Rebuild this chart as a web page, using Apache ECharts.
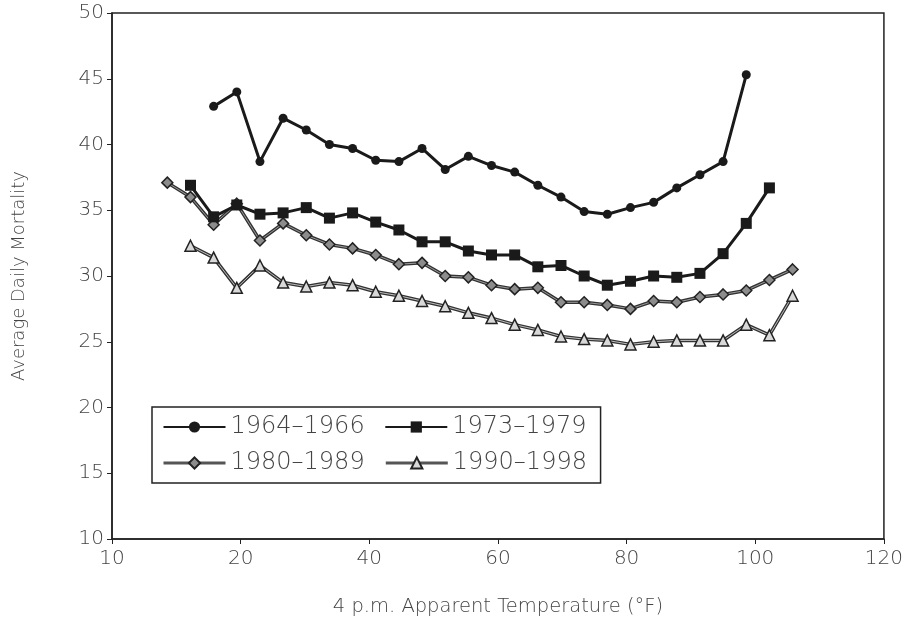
<!DOCTYPE html>
<html>
<head>
<meta charset="utf-8">
<script src="https://cdn.jsdelivr.net/npm/echarts@6/dist/echarts.min.js"></script>
<style>
  html, body { margin: 0; padding: 0; background: #fff; }
  #chart { width: 906px; height: 627px; }
</style>
</head>
<body>
<div id="chart"></div>
<script>
"use strict";
// temperature bins (°F), 2 °C apart
var temps = [8.6, 12.2, 15.8, 19.4, 23.0, 26.6, 30.2, 33.8, 37.4, 41.0, 44.6, 48.2, 51.8, 55.4,
  59.0, 62.6, 66.2, 69.8, 73.4, 77.0, 80.6, 84.2, 87.8, 91.4, 95.0, 98.6, 102.2, 105.8];

var names = ['1964\u20131966', '1973\u20131979', '1980\u20131989', '1990\u20131998'];

// 15.8 .. 98.6
var mort6466 = [42.9, 44.0, 38.7, 42.0, 41.1, 40.0, 39.7, 38.8, 38.7, 39.7, 38.1, 39.1, 38.4, 37.9,
  36.9, 36.0, 34.9, 34.7, 35.2, 35.6, 36.7, 37.7, 38.7, 45.3];
// 12.2 .. 102.2
var mort7379 = [36.9, 34.5, 35.4, 34.7, 34.8, 35.2, 34.4, 34.8, 34.1, 33.5, 32.6, 32.6, 31.9, 31.6,
  31.6, 30.7, 30.8, 30.0, 29.3, 29.6, 30.0, 29.9, 30.2, 31.7, 34.0, 36.7];
// 8.6 .. 105.8
var mort8089 = [37.1, 36.0, 33.9, 35.5, 32.7, 34.0, 33.1, 32.4, 32.1, 31.6, 30.9, 31.0, 30.0, 29.9,
  29.3, 29.0, 29.1, 28.0, 28.0, 27.8, 27.5, 28.1, 28.0, 28.4, 28.6, 28.9, 29.7, 30.5];
// 12.2 .. 105.8
var mort9098 = [32.3, 31.4, 29.1, 30.8, 29.5, 29.2, 29.5, 29.3, 28.8, 28.5, 28.1, 27.7, 27.2, 26.8,
  26.3, 25.9, 25.4, 25.2, 25.1, 24.8, 25.0, 25.1, 25.1, 25.1, 26.3, 25.5, 28.5];

var xTickLabels = ['10', '20', '40', '60', '80', '100', '120'];
var yTickLabels = ['10', '15', '20', '25', '30', '35', '40', '45', '50'];

function pairs(startIdx, vals) {
  return vals.map(function (v, i) { return [temps[startIdx + i], v]; });
}

var FONT = "'DejaVu Sans', sans-serif";
var TXT = '#444';
var chart = echarts.init(document.getElementById('chart'));

var option = {
  animation: false,
  backgroundColor: '#fff',
  grid: {
    left: 112, right: 22, top: 13, bottom: 88,
    show: true, borderColor: '#222', borderWidth: 1.5
  },
  legend: {
    data: [
      { name: names[0] },
      { name: names[1] },
      { name: names[2], lineStyle: { color: '#555', width: 3 } },
      { name: names[3], lineStyle: { color: '#555', width: 3 } }
    ],
    formatter: function (n) { return n + ' '; },
    left: 152, top: 407, width: 460,
    orient: 'horizontal',
    padding: [8, 6, 8, 10],
    itemGap: 12,
    itemWidth: 62, itemHeight: 14,
    borderColor: '#222', borderWidth: 1.5,
    backgroundColor: '#fff',
    textStyle: { fontFamily: FONT, fontWeight: 200, fontSize: 24, color: TXT }
  },
  xAxis: {
    type: 'value', min: 0, max: 120, interval: 20,
    name: '4 p.m. Apparent Temperature (\u00b0F)',
    nameLocation: 'middle', nameGap: 58,
    nameTextStyle: { fontFamily: FONT, fontWeight: 200, fontSize: 19.5, color: TXT },
    axisLine: { lineStyle: { color: '#222', width: 1.5 } },
    axisTick: { show: true, length: 5, lineStyle: { color: '#222', width: 1 } },
    axisLabel: {
      margin: 10, fontFamily: FONT, fontWeight: 200, fontSize: 20, color: TXT,
      formatter: function (v) { return xTickLabels[Math.round(v / 20)]; }
    },
    splitLine: { show: false }
  },
  yAxis: {
    type: 'value', min: 10, max: 50, interval: 5,
    name: 'Average Daily Mortality',
    nameLocation: 'middle', nameGap: 84,
    nameTextStyle: { fontFamily: FONT, fontWeight: 200, fontSize: 18, color: TXT },
    axisLine: { show: true, lineStyle: { color: '#222', width: 1.5 } },
    axisTick: { show: true, length: 5, lineStyle: { color: '#222', width: 1 } },
    axisLabel: {
      margin: 8, fontFamily: FONT, fontWeight: 200, fontSize: 20, color: TXT,
      formatter: function (v) { return yTickLabels[Math.round((v - 10) / 5)]; }
    },
    splitLine: { show: false }
  },
  series: [
    // dark under-strokes for the outlined lines
    {
      name: names[2] + ' edge', type: 'line', data: pairs(0, mort8089),
      showSymbol: false, silent: true, z: 1,
      lineStyle: { color: '#333', width: 3.5 }
    },
    {
      name: names[3] + ' edge', type: 'line', data: pairs(1, mort9098),
      showSymbol: false, silent: true, z: 1,
      lineStyle: { color: '#333', width: 3.5 }
    },
    {
      name: names[0], type: 'line', data: pairs(2, mort6466), z: 3,
      symbol: 'circle', symbolSize: 9,
      lineStyle: { color: '#1a1a1a', width: 3 },
      itemStyle: { color: '#1a1a1a' }
    },
    {
      name: names[1], type: 'line', data: pairs(1, mort7379), z: 3,
      symbol: 'rect', symbolSize: 11,
      lineStyle: { color: '#1a1a1a', width: 3 },
      itemStyle: { color: '#1a1a1a' }
    },
    {
      name: names[2], type: 'line', data: pairs(0, mort8089), z: 2,
      symbol: 'diamond', symbolSize: 11,
      lineStyle: { color: '#9a9a9a', width: 1 },
      itemStyle: { color: '#8c8c8c', borderColor: '#222', borderWidth: 1.5 }
    },
    {
      name: names[3], type: 'line', data: pairs(1, mort9098), z: 2,
      symbol: 'triangle', symbolSize: 11,
      lineStyle: { color: '#bdbdbd', width: 1 },
      itemStyle: { color: '#d8d8d8', borderColor: '#222', borderWidth: 1.5 }
    }
  ]
};
chart.setOption(option);
</script>
</body>
</html>
